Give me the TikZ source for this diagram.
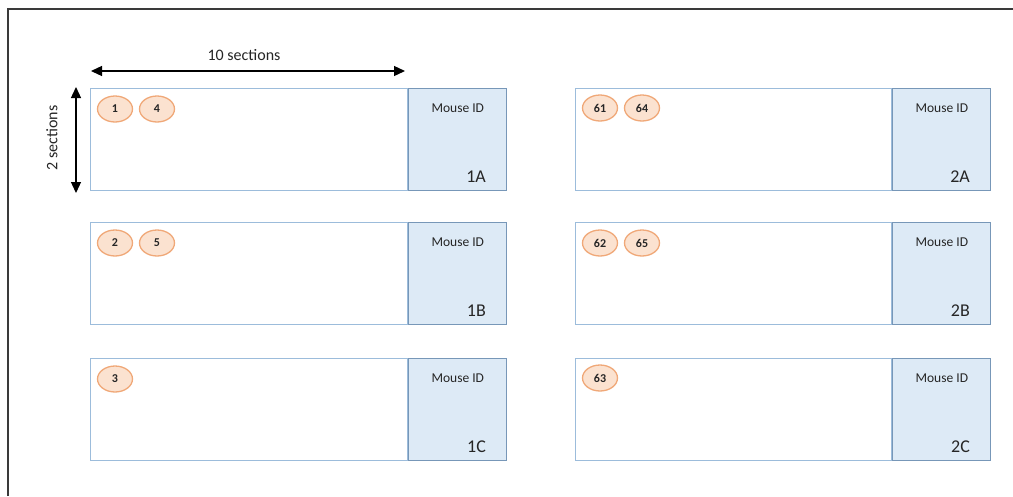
\documentclass[tikz,border=0pt]{standalone}
\usepackage{fontspec}
\setmainfont{Carlito}
\usetikzlibrary{shapes.geometric,arrows.meta}
\definecolor{framec}{HTML}{3A3A3A}
\definecolor{slideedge}{HTML}{9CBCDB}
\definecolor{idedge}{HTML}{7797B8}
\definecolor{idfill}{HTML}{DDEAF6}
\definecolor{dotfill}{HTML}{FBE2D0}
\definecolor{dotedge}{HTML}{F0A878}
\definecolor{txt}{HTML}{262626}
\tikzset{
  slidebox/.style={draw=slideedge,line width=1.2pt,fill=white,minimum width=317pt,minimum height=102pt,inner sep=0pt,anchor=north west},
  idbox/.style={draw=idedge,line width=1.2pt,fill=idfill,minimum width=98pt,minimum height=102pt,inner sep=0pt,anchor=north west},
  iddot/.style={ellipse,draw=dotedge,line width=1.3pt,fill=dotfill,minimum width=35pt,minimum height=26pt,inner sep=0pt,font=\fontsize{12}{14}\selectfont\bfseries,text=txt},
  idtext/.style={font=\fontsize{13.5}{15}\selectfont,text=txt,anchor=base},
  lettext/.style={font=\fontsize{18}{20}\selectfont,text=txt,anchor=base east},
  dimtext/.style={font=\fontsize{16}{18}\selectfont,text=txt},
  dimarrow/.style={line width=1.3pt,{Triangle[length=11pt,width=10pt]}-{Triangle[length=11pt,width=10pt]}},
  frameline/.style={draw=framec,line width=2pt}
}
\newcommand\mkpanel[5]{%
  \node[slidebox,minimum width=#5] (#1s) at (#2,#3) {};
  \node[idbox] (#1b) at (#1s.north east) {};
  \node[idtext] (#1m) at ([yshift=-24pt]#1b.north) {Mouse ID};
  \node[lettext] (#1l) at ([xshift=-18pt,yshift=9pt]#1b.south east) {#4};
}
\begin{document}
\begin{tikzpicture}[x=1pt,y=-1pt]
\useasboundingbox (0,0) rectangle (1013,496);
\fill[white] (0,0) rectangle (1013,496);
\coordinate (f1) at (8,496);
\coordinate (f2) at (8,8.5);
\coordinate (f3) at (1013,8.5);
\draw[frameline] (f1) -- (f2) -- (f3);

\mkpanel{a}{90}{88}{1A}{317pt}
\mkpanel{b}{90}{222}{1B}{317pt}
\mkpanel{c}{90}{358}{1C}{317pt}
\mkpanel{d}{575}{88}{2A}{316pt}
\mkpanel{e}{575}{222}{2B}{316pt}
\mkpanel{g}{575}{358}{2C}{316pt}

\node[iddot] (m1) at (115,109) {1};
\node[iddot] (m4) at (157,109) {4};
\node[iddot] (m2) at (115,243) {2};
\node[iddot] (m5) at (157,243) {5};
\node[iddot] (m3) at (115,379) {3};
\node[iddot] (m61) at (600,108) {61};
\node[iddot] (m64) at (642,108) {64};
\node[iddot] (m62) at (600,243) {62};
\node[iddot] (m65) at (642,243) {65};
\node[iddot] (m63) at (600,378) {63};

\coordinate (h1) at (91,71);
\coordinate (h2) at (405,71);
\draw[dimarrow] (h1) -- (h2);
\node[dimtext] (hl) at (244,55) {10 sections};
\coordinate (v1) at (76,87);
\coordinate (v2) at (76,193);
\draw[dimarrow] (v1) -- (v2);
\node[dimtext,rotate=90] (vl) at (52,138) {2 sections};
\end{tikzpicture}
\end{document}
